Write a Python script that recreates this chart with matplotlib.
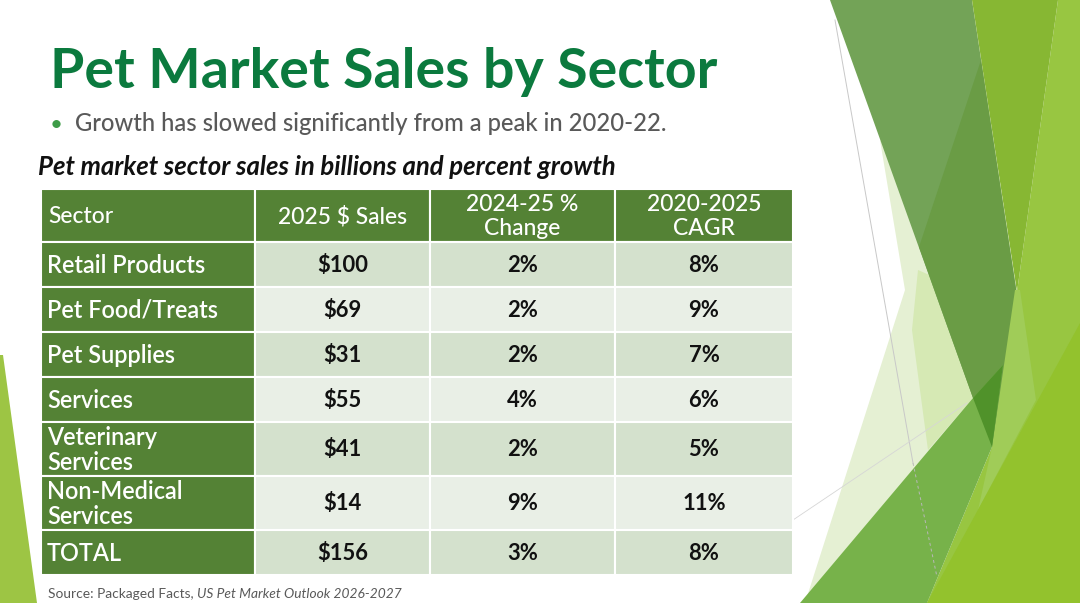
import matplotlib
matplotlib.use("Agg")
import matplotlib.pyplot as plt
from matplotlib.patches import Rectangle, Polygon

# ---------------- data ----------------
title = "Pet Market Sales by Sector"
bullet = "Growth has slowed significantly from a peak in 2020-22."
subtitle = "Pet market sector sales in billions and percent growth"
headers = ["Sector", "2025 $ Sales", "2024-25 %\nChange", "2020-2025\nCAGR"]
sectors = ["Retail Products", "Pet Food/Treats", "Pet Supplies", "Services",
           "Veterinary\nServices", "Non-Medical\nServices", "TOTAL"]
sales_2025 = [100, 69, 31, 55, 41, 14, 156]
change_2425 = [2, 2, 2, 4, 2, 9, 3]
cagr_2020_2025 = [8, 9, 7, 6, 5, 11, 8]
source_plain = "Source: Packaged Facts, "
source_italic = "US Pet Market Outlook 2026-2027"

# ---------------- style ----------------
FONT = ["Lato", "DejaVu Sans"]
plt.rcParams['font.family'] = FONT
GREEN_HDR = "#548235"
BAND = ["#D4E1CD", "#E9EFE6"]
TITLE_C = "#0B7A3E"

fig = plt.figure(figsize=(10.8, 6.03), dpi=100)
ax = fig.add_axes([0, 0, 1, 1])
ax.set_xlim(0, 1080)
ax.set_ylim(603, 0)
ax.axis("off")
renderer = fig.canvas.get_renderer()


def fit(t, width_px):
    bb = t.get_window_extent(renderer)
    t.set_fontsize(t.get_fontsize() * width_px / bb.width)
    return t

# ---------------- decorative shapes ----------------
shapes = [
    ("#E5F0D3", [(880, 140), (905, 290), (805, 603), (930, 603), (973, 398), (925, 200)]),
    ("#D6E9B4", [(918, 270), (952, 285), (973, 398), (928, 450), (912, 330)]),
    ("#98C641", [(1058, 0), (1080, 0), (1080, 603), (927, 603), (992, 447), (1017, 292)]),
    ("#73A357", [(830, 0), (972, 0), (1017, 295), (992, 447), (973, 398)]),
    ("#6A9C45", [(981, 60), (919, 247), (973, 398), (992, 447), (1017, 295)]),
    ("#87B733", [(972, 0), (1058, 0), (1017, 292)]),
    ("#A0CC58", [(1015, 290), (1020, 290), (1036, 400), (978, 510), (992, 447)]),
    ("#77B24A", [(800, 603), (973, 398), (1003, 365), (992, 447), (927, 603)]),
    ("#50922A", [(973, 398), (1003, 365), (992, 447)]),
    ("#93C22D", [(927, 603), (1080, 323), (1080, 603)]),
    ("#9DC544", [(0, 355), (3, 355), (37, 603), (0, 603)]),
]
for col, pts in shapes:
    ax.add_patch(Polygon(pts, closed=True, facecolor=col, edgecolor="none", zorder=1))
ax.plot([835, 913], [20, 463], color="#C8C8C8", lw=0.7, zorder=2)
ax.plot([913, 937], [463, 577], color="#B8B8B8", lw=0.7, ls=(0, (3, 3)), zorder=2)
ax.plot([793, 967], [520, 403], color="#D6D6D6", lw=0.6, zorder=2)

# ---------------- titles ----------------
t = ax.text(50, 88, title, fontsize=40, color=TITLE_C, ha="left", va="baseline",
            fontweight="bold", zorder=5)
fit(t, 667)
ax.text(50, 131, "\u2022", fontsize=16, color="#3E9C48", ha="left", va="baseline", zorder=5)
t = ax.text(75, 131, bullet, fontsize=16, color="#595959", ha="left", va="baseline",
            fontweight="medium", zorder=5)
fit(t, 592)
t = ax.text(38, 175, subtitle, fontsize=15, color="#111111", ha="left", va="baseline",
            style="italic", fontweight="bold", zorder=5)
fit(t, 580)

# ---------------- table ----------------
col_edges = [41, 255, 430, 615, 793]
row_edges = [189, 242, 287, 332, 377, 422, 476, 530, 575]
n_rows = len(sectors)

for c in range(4):
    ax.add_patch(Rectangle((col_edges[c], row_edges[0]), col_edges[c + 1] - col_edges[c],
                           row_edges[1] - row_edges[0], facecolor=GREEN_HDR,
                           edgecolor="white", lw=1.5, zorder=3))
for r in range(n_rows):
    y0, y1 = row_edges[r + 1], row_edges[r + 2]
    for c in range(4):
        fc = GREEN_HDR if c == 0 else BAND[r % 2]
        ax.add_patch(Rectangle((col_edges[c], y0), col_edges[c + 1] - col_edges[c], y1 - y0,
                               facecolor=fc, edgecolor="white", lw=1.5, zorder=3))

cx = [(col_edges[i] + col_edges[i + 1]) / 2 for i in range(4)]
hy = (row_edges[0] + row_edges[1]) / 2 + 1

ref_lbl = ax.text(47, 0, "Retail Products", fontsize=15, fontweight="semibold")
fit(ref_lbl, 159)
LBL_FS = ref_lbl.get_fontsize()
ref_lbl.remove()
ref_val = ax.text(0, 0, "$100", fontsize=15, fontweight="bold")
fit(ref_val, 51)
VAL_FS = ref_val.get_fontsize()
ref_val.remove()
ref_hdr = ax.text(0, 0, "2025 $ Sales", fontsize=15, fontweight="medium")
fit(ref_hdr, 130)
HDR_FS = ref_hdr.get_fontsize()
ref_hdr.remove()

ax.text(48, hy, headers[0], fontsize=HDR_FS, color="white", ha="left", va="center",
        fontweight="medium", zorder=5)
for c in range(1, 4):
    ax.text(cx[c], hy, headers[c], fontsize=HDR_FS, color="white", ha="center",
            va="center", linespacing=1.2, fontweight="medium", zorder=5)

for r in range(n_rows):
    yc = (row_edges[r + 1] + row_edges[r + 2]) / 2 + 1
    ax.text(47, yc, sectors[r], fontsize=LBL_FS, color="white", ha="left", va="center",
            fontweight="semibold", linespacing=1.1, zorder=5)
    ax.text(cx[1], yc, f"${sales_2025[r]}", fontsize=VAL_FS, color="#111111",
            ha="center", va="center", fontweight="bold", zorder=5)
    ax.text(cx[2], yc, f"{change_2425[r]}%", fontsize=VAL_FS, color="#111111",
            ha="center", va="center", fontweight="bold", zorder=5)
    ax.text(cx[3], yc, f"{cagr_2020_2025[r]}%", fontsize=VAL_FS, color="#111111",
            ha="center", va="center", fontweight="bold", zorder=5)

# ---------------- source ----------------
SRC_FS = 9.9
s1 = ax.text(48, 598, source_plain, fontsize=SRC_FS, color="#595959", ha="left",
             va="baseline", zorder=5)
bb = s1.get_window_extent(renderer)
x_end = ax.transData.inverted().transform((bb.x1, bb.y0))[0]
ax.text(x_end, 598, source_italic, fontsize=SRC_FS, color="#595959", ha="left",
        va="baseline", style="italic", zorder=5)

fig.savefig("out.png", dpi=100)
